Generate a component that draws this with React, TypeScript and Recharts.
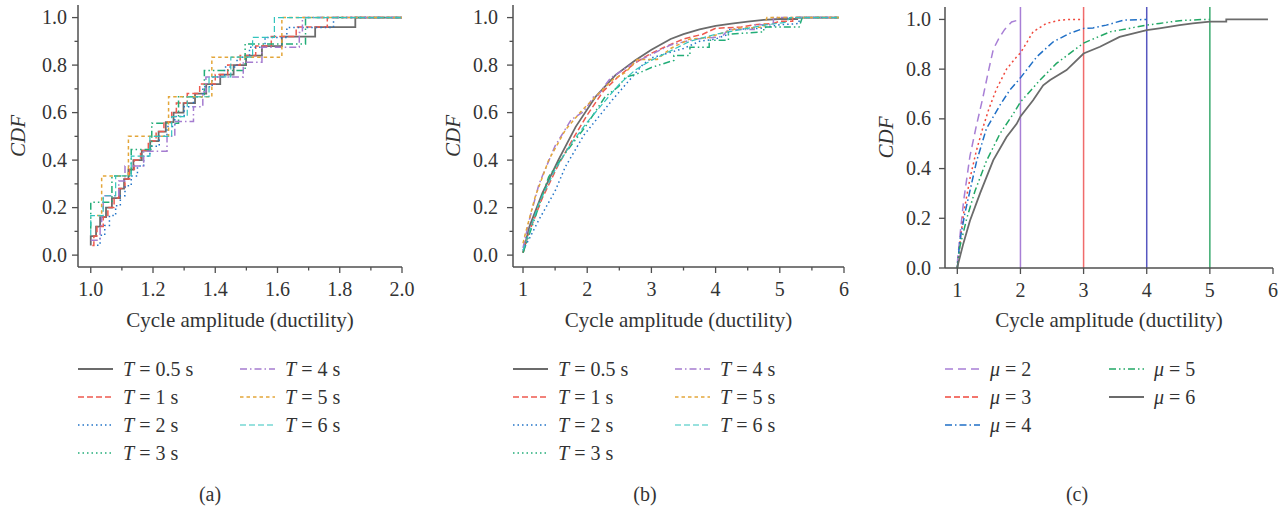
import React from 'react'
import { LineChart, Line, XAxis, YAxis, ReferenceLine } from 'recharts'

const FONT = '"Liberation Serif", "Times New Roman", serif'
const INK = '#333333'
const AXIS = '#4f4f4f'

// legend labels
const periods = ['0.5', '1', '2', '3', '4', '5', '6']
const ductilities = ['2', '3', '4', '5', '6']

// (a) sample amplitudes per period
const aT05 = [1.0, 1.0, 1.017, 1.03, 1.049, 1.068, 1.094, 1.107, 1.121, 1.137, 1.164, 1.191, 1.218, 1.241, 1.266, 1.298, 1.335, 1.371, 1.416, 1.459, 1.499, 1.55, 1.614, 1.721, 1.85]
const aT1 = [1.005, 1.01, 1.02, 1.04, 1.055, 1.075, 1.09, 1.11, 1.125, 1.14, 1.16, 1.185, 1.21, 1.235, 1.26, 1.275, 1.31, 1.35, 1.4, 1.44, 1.48, 1.53, 1.58, 1.66, 1.76]
const aT2 = [1.02, 1.03, 1.045, 1.06, 1.08, 1.095, 1.11, 1.13, 1.15, 1.17, 1.19, 1.22, 1.245, 1.27, 1.3, 1.33, 1.36, 1.39, 1.43, 1.47, 1.51, 1.56, 1.63, 1.78]
const aT3 = [1.0, 1.0, 1.068, 1.13, 1.196, 1.282, 1.365, 1.496, 1.69]
const aT4 = [1.0, 1.03, 1.035, 1.04, 1.09, 1.11, 1.17, 1.245, 1.27, 1.33, 1.36, 1.37, 1.49, 1.55, 1.67, 1.68]
const aT5 = [1.02, 1.035, 1.121, 1.25, 1.389, 1.614]
const aT6 = [1.0, 1.0, 1.04, 1.08, 1.13, 1.19, 1.26, 1.31, 1.38, 1.45, 1.52, 1.59]
const aEnd = 2.0

// (b) CDF knots per period
const bT05x = [1.0, 1.1, 1.3, 1.55, 1.82, 2.13, 2.44, 2.75, 3.0, 3.3, 3.5, 3.75, 4.0, 4.25, 4.5, 4.75, 5.0, 5.27, 5.27, 5.92]
const bT05y = [0.01, 0.12, 0.26, 0.4, 0.54, 0.667, 0.758, 0.82, 0.865, 0.91, 0.93, 0.95, 0.965, 0.975, 0.983, 0.99, 0.994, 0.994, 1.0, 1.0]
const bT1x = [1.0, 1.1, 1.3, 1.55, 1.8, 2.0, 2.25, 2.5, 2.75, 3.0, 3.2, 3.5, 3.8, 4.0, 4.4, 4.6, 4.9, 5.0, 5.2, 5.2, 5.92]
const bT1y = [0.01, 0.1, 0.24, 0.38, 0.5, 0.59, 0.69, 0.755, 0.81, 0.85, 0.875, 0.91, 0.93, 0.955, 0.96, 0.97, 0.975, 0.985, 0.985, 1.0, 1.0]
const bT2x = [1.0, 1.1, 1.25, 1.5, 1.66, 1.95, 2.39, 2.86, 3.0, 3.25, 3.5, 3.75, 4.0, 4.2, 4.2, 4.7, 5.0, 5.3, 5.3, 5.92]
const bT2y = [0.02, 0.07, 0.15, 0.27, 0.372, 0.506, 0.653, 0.8, 0.83, 0.85, 0.87, 0.9, 0.91, 0.93, 0.95, 0.955, 0.97, 0.975, 1.0, 1.0]
const bT3x = [1.0, 1.14, 1.4, 1.66, 1.97, 2.28, 2.49, 2.6, 2.75, 3.0, 3.35, 3.35, 3.6, 3.6, 3.9, 3.9, 4.2, 4.2, 4.75, 4.75, 5.3, 5.35, 5.92]
const bT3y = [0.01, 0.12, 0.33, 0.43, 0.54, 0.667, 0.71, 0.75, 0.76, 0.79, 0.82, 0.84, 0.84, 0.875, 0.875, 0.905, 0.905, 0.93, 0.94, 0.96, 0.96, 1.0, 1.0]
const bT4x = [1.0, 1.1, 1.25, 1.5, 1.75, 1.92, 2.0, 2.1, 2.17, 2.36, 2.67, 3.0, 3.3, 3.7, 4.1, 4.2, 4.6, 4.6, 4.9, 4.9, 5.92]
const bT4y = [0.03, 0.15, 0.3, 0.46, 0.57, 0.6, 0.625, 0.667, 0.674, 0.745, 0.8, 0.845, 0.885, 0.91, 0.92, 0.95, 0.95, 0.97, 0.97, 1.0, 1.0]
const bT5x = [1.0, 1.036, 1.19, 1.4, 1.66, 1.92, 2.08, 2.39, 2.6, 2.78, 3.09, 3.3, 3.6, 3.87, 4.34, 4.75, 4.8, 5.92]
const bT5y = [0.05, 0.09, 0.246, 0.4, 0.527, 0.61, 0.653, 0.737, 0.77, 0.824, 0.824, 0.87, 0.91, 0.915, 0.955, 0.96, 1.0, 1.0]
const bT6x = [1.0, 1.1, 1.25, 1.5, 1.75, 2.0, 2.25, 2.5, 2.75, 3.0, 3.3, 3.6, 4.0, 4.4, 4.8, 5.1, 5.15, 5.92]
const bT6y = [0.02, 0.1, 0.22, 0.36, 0.47, 0.56, 0.64, 0.72, 0.78, 0.82, 0.86, 0.9, 0.93, 0.95, 0.97, 0.98, 1.0, 1.0]

// (c) CDF knots per target ductility
const cMu2x = [1.0, 1.05, 1.1, 1.2, 1.3, 1.4, 1.5, 1.57, 1.65, 1.75, 1.86, 2.0]
const cMu2y = [0.02, 0.15, 0.27, 0.45, 0.57, 0.68, 0.8, 0.88, 0.92, 0.96, 0.99, 1.0]
const cMu3x = [1.0, 1.05, 1.1, 1.2, 1.3, 1.4, 1.5, 1.62, 1.78, 1.94, 2.0, 2.2, 2.41, 2.62, 2.78, 3.0]
const cMu3y = [0.0, 0.12, 0.22, 0.36, 0.47, 0.56, 0.64, 0.72, 0.8, 0.85, 0.865, 0.95, 0.984, 0.997, 1.0, 1.0]
const cMu4x = [1.0, 1.04, 1.12, 1.2, 1.306, 1.46, 1.675, 1.83, 2.0, 2.26, 2.52, 2.78, 3.0, 3.15, 3.36, 3.63, 4.0]
const cMu4y = [0.0, 0.11, 0.22, 0.31, 0.43, 0.56, 0.655, 0.715, 0.765, 0.85, 0.91, 0.944, 0.964, 0.966, 0.977, 0.997, 1.0]
const cMu5x = [1.0, 1.04, 1.15, 1.28, 1.46, 1.675, 1.886, 2.0, 2.31, 2.57, 3.0, 3.42, 3.57, 4.0, 4.2, 4.52, 4.89, 5.0]
const cMu5y = [0.0, 0.085, 0.2, 0.31, 0.43, 0.54, 0.62, 0.668, 0.756, 0.823, 0.905, 0.95, 0.957, 0.977, 0.984, 0.995, 1.0, 1.0]
const cMu6x = [1.0, 1.095, 1.2, 1.36, 1.57, 1.78, 1.94, 2.0, 2.2, 2.36, 2.47, 2.73, 3.0, 3.26, 3.57, 4.0, 4.2, 4.52, 4.73, 5.0, 5.26, 5.26, 5.92]
const cMu6y = [0.004, 0.098, 0.19, 0.3, 0.434, 0.527, 0.58, 0.61, 0.675, 0.735, 0.756, 0.796, 0.863, 0.89, 0.93, 0.957, 0.964, 0.977, 0.984, 0.991, 0.991, 1.0, 1.0]
const thresholds = [2, 3, 4, 5]

// ticks
const aXTicks = [1.0, 1.1, 1.2, 1.3, 1.4, 1.5, 1.6, 1.7, 1.8, 1.9, 2.0]
const aXMajor = [1.0, 1.2, 1.4, 1.6, 1.8, 2.0]
const bXTicks = [1, 1.5, 2, 2.5, 3, 3.5, 4, 4.5, 5, 5.5, 6]
const cXTicks = [1, 2, 3, 4, 5, 6]
const yTicks = [0, 0.1, 0.2, 0.3, 0.4, 0.5, 0.6, 0.7, 0.8, 0.9, 1.0]
const yMajor = [0, 0.2, 0.4, 0.6, 0.8, 1.0]

const ecdf = (xs: number[]) => [...xs.map((x, i) => ({ x, y: (i + 1) / xs.length })), { x: aEnd, y: 1 }]
const knots = (xs: number[], ys: number[]) => xs.map((x, i) => ({ x, y: ys[i] }))

const periodStyles = [
  { color: '#6b6b6b', dash: undefined, width: 1.8 },
  { color: '#ee5a4f', dash: '6 3', width: 1.5 },
  { color: '#2274c8', dash: '1.5 3', width: 1.5 },
  { color: '#22ad78', dash: '7 3 1.5 3 1.5 3', legendDash: '1.5 3', width: 1.5 },
  { color: '#a57cd0', dash: '7 3 1.5 3', width: 1.5 },
  { color: '#e3a63a', dash: '3.5 3', width: 1.5 },
  { color: '#33c4bd', dash: '6 3', width: 1.2 },
]
const muStyles = [
  { color: '#a87fd6', dash: '8 5', width: 1.5 },
  { color: '#f0483c', dash: '2 3', legendDash: '6 3', width: 1.5 },
  { color: '#1f6fc6', dash: '7 3 1.5 3', width: 1.5 },
  { color: '#22a865', dash: '7 3 1.5 3 1.5 3', width: 1.5 },
  { color: '#6b6b6b', dash: undefined, width: 1.8 },
]
const thresholdColors = ['#a87fd6', '#f06b6b', '#5757c0', '#3aaa6e']

const aData = [aT05, aT1, aT2, aT3, aT4, aT5, aT6].map(ecdf)
const bData = [
  knots(bT05x, bT05y), knots(bT1x, bT1y), knots(bT2x, bT2y), knots(bT3x, bT3y),
  knots(bT4x, bT4y), knots(bT5x, bT5y), knots(bT6x, bT6y),
]
const cData = [knots(cMu2x, cMu2y), knots(cMu3x, cMu3y), knots(cMu4x, cMu4y), knots(cMu5x, cMu5y), knots(cMu6x, cMu6y)]

const near = (list: number[], v: number) => list.some((m) => Math.abs(m - v) < 1e-6)

function XTick(props: any) {
  const { x, y, payload, majors, fmt } = props
  const major = near(majors, payload.value)
  return (
    <g>
      <line x1={x} x2={x} y1={y} y2={y + (major ? 6 : 3.5)} stroke={AXIS} strokeWidth={1.3} />
      {major && (
        <text x={x} y={y + 29} textAnchor="middle" fill={INK} fontSize={20} fontFamily={FONT}>
          {fmt(payload.value)}
        </text>
      )}
    </g>
  )
}

function YTick(props: any) {
  const { x, y, payload, gap } = props
  const major = near(yMajor, payload.value)
  return (
    <g>
      <line x1={x} x2={x - (major ? 6 : 3.5)} y1={y} y2={y} stroke={AXIS} strokeWidth={1.3} />
      {major && (
        <text x={x - gap} y={y + 6.6} textAnchor="end" fill={INK} fontSize={20} fontFamily={FONT}>
          {payload.value.toFixed(1)}
        </text>
      )}
    </g>
  )
}

type Style = { color: string; dash?: string; legendDash?: string; width: number }

function Panel(props: any) {
  const { left, width, plotLeft, plotRight, top, bottom, xDomain, yDomain, xTicks, xMajor, xFmt, yTicksList, gap, yLabelX, data, styles, type, refs } = props
  const height = 345
  return (
    <div style={{ position: 'absolute', left, top: 0 }}>
      <LineChart width={width} height={height} margin={{ top, right: width - plotRight, bottom: 0, left: 0 }}>
        <XAxis
          dataKey="x" type="number" domain={xDomain} ticks={xTicks} interval={0} allowDataOverflow
          height={height - bottom} tickSize={0} tickMargin={0} tickLine={false}
          axisLine={{ stroke: AXIS, strokeWidth: 1.5 }}
          tick={<XTick majors={xMajor} fmt={xFmt} />}
          label={{ value: 'Cycle amplitude (ductility)', position: 'insideBottom', offset: 18, fill: INK, fontSize: 21, fontFamily: FONT }}
        />
        <YAxis
          type="number" domain={yDomain} ticks={yTicksList} interval={0} allowDataOverflow
          width={plotLeft} tickSize={0} tickMargin={0} tickLine={false}
          axisLine={{ stroke: AXIS, strokeWidth: 1.5 }}
          tick={<YTick gap={gap} />}
          label={{ value: 'CDF', angle: -90, position: 'insideLeft', offset: yLabelX, fill: INK, fontSize: 21, fontFamily: FONT, fontStyle: 'italic', style: { textAnchor: 'middle' } }}
        />
        <XAxis xAxisId="top" orientation="top" type="number" domain={xDomain} height={0} tick={false} tickLine={false} axisLine={{ stroke: AXIS, strokeWidth: 1.5 }} />
        <YAxis yAxisId="right" orientation="right" type="number" domain={yDomain} width={0} tick={false} tickLine={false} axisLine={{ stroke: AXIS, strokeWidth: 1.5 }} />
        {refs}
        {data.map((d: any[], i: number) => {
          const s: Style = styles[i]
          return (
            <Line
              key={i} data={d} dataKey="y" type={type} stroke={s.color} strokeWidth={s.width}
              strokeDasharray={s.dash} dot={false} activeDot={false} isAnimationActive={false}
            />
          )
        })}
      </LineChart>
    </div>
  )
}

function LegendGrid({ labels, symbol, unit, styles, x0, x1, perCol }: any) {
  const rows = [369, 397, 425, 453]
  return (
    <>
      {labels.map((lab: string, i: number) => {
        const s: Style = styles[i]
        const col = i < perCol ? 0 : 1
        const row = col === 0 ? i : i - perCol
        return (
          <div key={i} style={{ position: 'absolute', left: col === 0 ? x0 : x1, top: rows[row] - 12, height: 24, display: 'flex', alignItems: 'center', fontFamily: FONT, fontSize: 20, lineHeight: '24px', color: INK, whiteSpace: 'nowrap' }}>
            <svg width={35} height={24} style={{ display: 'block' }}>
              <line x1={0} x2={35} y1={12} y2={12} stroke={s.color} strokeWidth={s.width} strokeDasharray={s.legendDash ?? s.dash} />
            </svg>
            <span style={{ marginLeft: 10 }}>
              <i>{symbol}</i> = {lab}{unit}
            </span>
          </div>
        )
      })}
    </>
  )
}

const caption = (text: string, cx: number) => (
  <div style={{ position: 'absolute', left: cx - 30, width: 60, top: 482, textAlign: 'center', fontFamily: FONT, fontSize: 20, lineHeight: '24px', color: INK }}>
    {text}
  </div>
)

export default function App() {
  const fmt1 = (v: number) => v.toFixed(1)
  const fmt0 = (v: number) => String(v)
  return (
    <div style={{ position: 'fixed', left: 0, top: 0, width: 1288, height: 508, background: '#fff', overflow: 'hidden' }}>
      <Panel
        left={0} width={430} plotLeft={78} plotRight={402} top={5} bottom={267}
        xDomain={[0.959, 2.0]} yDomain={[-0.05, 1.053]} xTicks={aXTicks} xMajor={aXMajor} xFmt={fmt1}
        yTicksList={yTicks} gap={11} yLabelX={18} data={aData} styles={periodStyles} type="stepAfter"
      />
      <Panel
        left={430} width={430} plotLeft={83} plotRight={414} top={5} bottom={267}
        xDomain={[0.844, 6]} yDomain={[-0.05, 1.053]} xTicks={bXTicks} xMajor={cXTicks} xFmt={fmt0}
        yTicksList={yTicks} gap={15} yLabelX={23} data={bData} styles={periodStyles} type="linear"
      />
      <Panel
        left={860} width={428} plotLeft={85} plotRight={413} top={7} bottom={268}
        xDomain={[0.805, 6]} yDomain={[0, 1.05]} xTicks={cXTicks} xMajor={cXTicks} xFmt={fmt0}
        yTicksList={yMajor} gap={14} yLabelX={26} data={cData} styles={muStyles} type="linear"
        refs={thresholds.map((t, i) => (
          <ReferenceLine key={t} x={t} stroke={thresholdColors[i]} strokeWidth={1.5} ifOverflow="hidden" />
        ))}
      />
      <LegendGrid labels={periods} symbol="T" unit=" s" styles={periodStyles} x0={78} x1={240} perCol={4} />
      <LegendGrid labels={periods} symbol="T" unit=" s" styles={periodStyles} x0={513} x1={675} perCol={4} />
      <LegendGrid labels={ductilities} symbol="μ" unit="" styles={muStyles} x0={945} x1={1109} perCol={3} />
      {caption('(a)', 210)}
      {caption('(b)', 645)}
      {caption('(c)', 1077)}
    </div>
  )
}
